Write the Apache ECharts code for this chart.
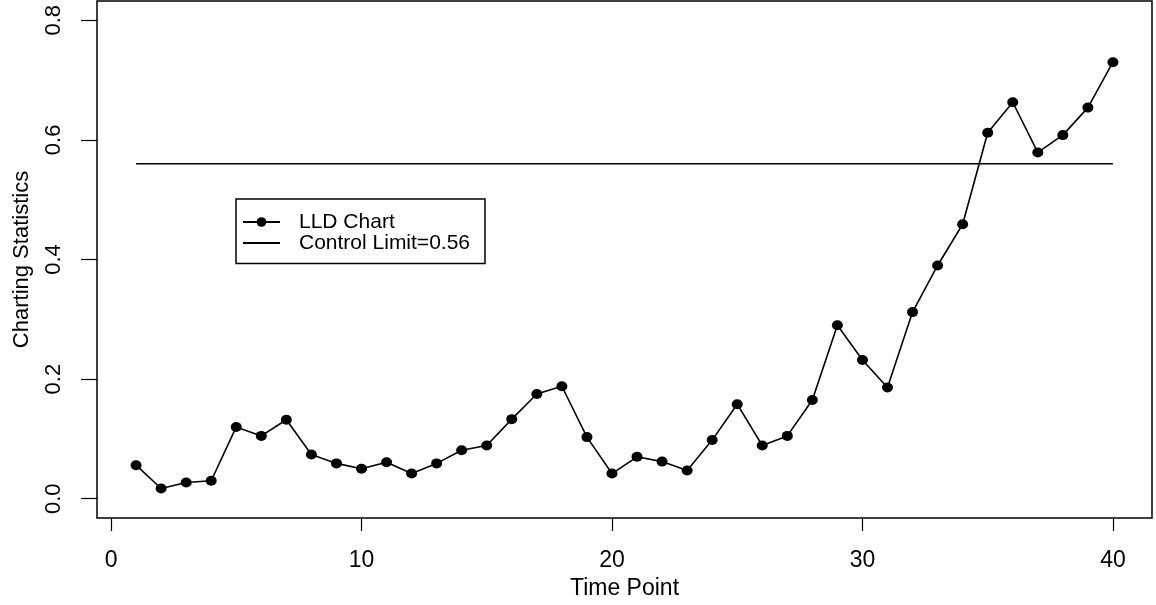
<!DOCTYPE html>
<html>
<head>
<meta charset="utf-8">
<script src="https://cdn.jsdelivr.net/npm/echarts@6/dist/echarts.min.js"></script>
<style>
html,body{margin:0;padding:0;background:#fff;}
#chart{width:1156px;height:605px;}
</style>
</head>
<body>
<div id="chart"></div>
<script>
// ---- data ----
const timePoints = [1,2,3,4,5,6,7,8,9,10,11,12,13,14,15,16,17,18,19,20,21,22,23,24,25,26,27,28,29,30,31,32,33,34,35,36,37,38,39,40];
const lldValues = [0.056,0.017,0.027,0.030,0.120,0.105,0.132,0.074,0.059,0.050,
                   0.061,0.042,0.059,0.081,0.089,0.133,0.175,0.188,0.103,0.042,
                   0.070,0.062,0.047,0.098,0.158,0.089,0.105,0.165,0.290,0.232,
                   0.186,0.312,0.390,0.459,0.612,0.663,0.579,0.608,0.654,0.730];
const controlLimit = 0.56;
const controlX = [1, 40];
const xTicks = [0,10,20,30,40];
const yTicks = [0,0.2,0.4,0.6,0.8];

const FONT = '"Liberation Sans", Arial, Helvetica, sans-serif';
const chart = echarts.init(document.getElementById('chart'), null, {renderer:'canvas'});
chart.setOption({
  animation:false,
  backgroundColor:'#fff',
  grid:{left:97,right:4,top:1,bottom:87,show:true,borderColor:'#000',borderWidth:1.5,backgroundColor:'transparent'},
  xAxis:{
    type:'value', min:-0.56, max:41.56,
    name:'Time Point', nameLocation:'middle', nameGap:57,
    nameTextStyle:{color:'#000',fontSize:23,fontFamily:FONT},
    axisLine:{show:false,onZero:false},
    splitLine:{show:false},
    axisTick:{show:true,inside:false,length:13,lineStyle:{color:'#000',width:1.2},customValues:xTicks},
    axisLabel:{color:'#000',fontSize:23,fontFamily:FONT,margin:31,customValues:xTicks,formatter:v=>String(v)}
  },
  yAxis:{
    type:'value', min:-0.0323, max:0.8323,
    name:'Charting Statistics', nameLocation:'middle', nameGap:64,
    nameTextStyle:{color:'#000',fontSize:22,fontFamily:FONT},
    axisLine:{show:false,onZero:false},
    splitLine:{show:false},
    axisTick:{show:true,inside:false,length:16,lineStyle:{color:'#000',width:1.2},customValues:yTicks},
    axisLabel:{color:'#000',fontSize:22,fontFamily:FONT,margin:32,rotate:90,customValues:yTicks,formatter:v=>v.toFixed(1)}
  },
  legend:{
    left:236, top:199, orient:'vertical',
    padding:[12.5,15,10,6],
    itemWidth:37, itemHeight:12, itemGap:0,
    borderColor:'#000', borderWidth:1.5, borderRadius:0,
    textStyle:{color:'#000',fontSize:21,fontFamily:FONT,padding:[0,0,0,14]},
    data:[
      {name:'LLD Chart'},
      {name:'Control Limit=0.56', itemStyle:{opacity:0}}
    ]
  },
  series:[
    {
      name:'LLD Chart', type:'line',
      data: timePoints.map((t,i)=>[t,lldValues[i]]),
      symbol:'circle', symbolSize:[11,10],
      lineStyle:{color:'#000',width:1.6},
      itemStyle:{color:'#000'},
      z:3
    },
    {
      name:'Control Limit=0.56', type:'line',
      data: controlX.map(t=>[t,controlLimit]),
      symbol:'none',
      lineStyle:{color:'#000',width:1.5},
      itemStyle:{color:'#000'},
      z:2
    }
  ]
});
</script>
</body>
</html>
